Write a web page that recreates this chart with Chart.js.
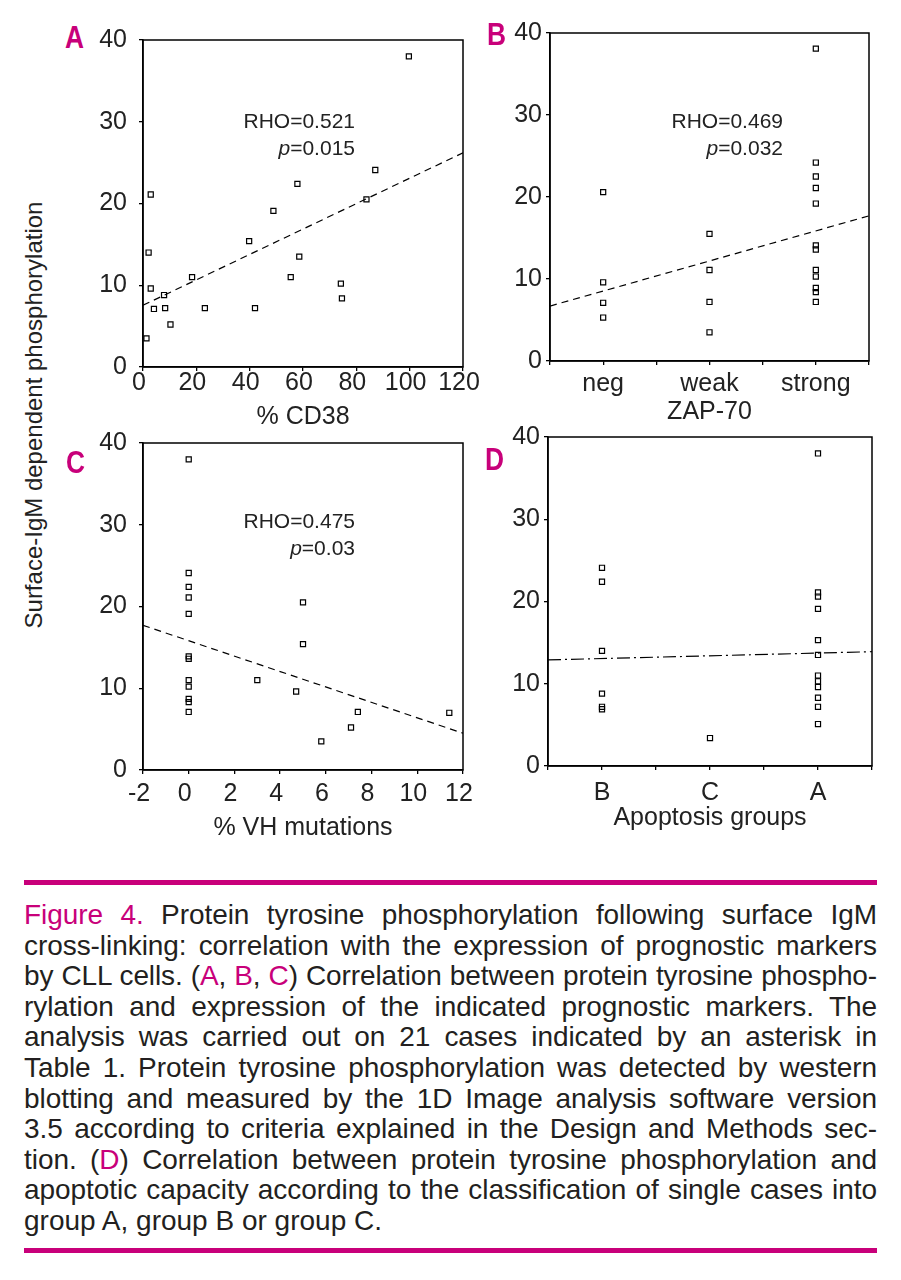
<!DOCTYPE html>
<html>
<head>
<meta charset="utf-8">
<script src="https://cdn.jsdelivr.net/npm/chart.js@4.4.1/dist/chart.umd.min.js"></script>
<style>
  body { margin: 0; background: #fff; }
  #page { position: relative; width: 901px; height: 1280px; overflow: hidden; background: #fff; }
  canvas { position: absolute; }
  .tag { position: absolute; font: bold 31px "Liberation Sans", sans-serif; line-height: 31px; color: #c8007a; transform: scaleX(0.85); transform-origin: left top; }
  .note { position: absolute; font: 21px "Liberation Sans", sans-serif; line-height: 27px; color: #222; text-align: right; white-space: nowrap; }
  .ytitle { position: absolute; left: 34px; top: 415px; transform: translate(-50%, -50%) rotate(-90deg);
            font: 24px "Liberation Sans", sans-serif; color: #222; white-space: nowrap; }
  .rule { position: absolute; left: 24px; width: 853px; height: 5px; background: #c8007a; }
  #caption { position: absolute; left: 24px; top: 900px; width: 853px; font: 28px "Liberation Sans", sans-serif;
             line-height: 30.6px; color: #231f20; }
  #caption .ln { text-align: justify; text-align-last: justify; }
  #caption .ln.last { text-align-last: left; }
  .m { color: #c8007a; }
</style>
</head>
<body>
<div id="page">
  <canvas id="chartA" width="390" height="440" style="left:90px;top:0px"></canvas>
  <canvas id="chartB" width="401" height="440" style="left:500px;top:0px"></canvas>
  <canvas id="chartC" width="390" height="425" style="left:90px;top:420px"></canvas>
  <canvas id="chartD" width="401" height="425" style="left:500px;top:420px"></canvas>

  <div class="tag" style="left:65px;top:22px">A</div>
  <div class="tag" style="left:487px;top:19px">B</div>
  <div class="tag" style="left:66px;top:447px">C</div>
  <div class="tag" style="left:485px;top:444px">D</div>

  <div class="note" style="right:546px;top:107px">RHO=0.521<br><i>p</i>=0.015</div>
  <div class="note" style="right:118px;top:107px">RHO=0.469<br><i>p</i>=0.032</div>
  <div class="note" style="right:546px;top:507px">RHO=0.475<br><i>p</i>=0.03</div>

  <div class="ytitle">Surface-IgM dependent phosphorylation</div>

  <div class="rule" style="top:880px"></div>
  <div id="caption">
    <div class="ln"><span><span class="m">Figure 4.</span> Protein tyrosine phosphorylation following surface IgM</span></div>
    <div class="ln"><span>cross-linking: correlation with the expression of prognostic markers</span></div>
    <div class="ln"><span>by CLL cells. (<span class="m">A</span>, <span class="m">B</span>, <span class="m">C</span>) Correlation between protein tyrosine phospho-</span></div>
    <div class="ln"><span>rylation and expression of the indicated prognostic markers. The</span></div>
    <div class="ln"><span>analysis was carried out on 21 cases indicated by an asterisk in</span></div>
    <div class="ln"><span>Table 1. Protein tyrosine phosphorylation was detected by western</span></div>
    <div class="ln"><span>blotting and measured by the 1D Image analysis software version</span></div>
    <div class="ln"><span>3.5 according to criteria explained in the Design and Methods sec-</span></div>
    <div class="ln"><span>tion. (<span class="m">D</span>) Correlation between protein tyrosine phosphorylation and</span></div>
    <div class="ln"><span>apoptotic capacity according to the classification of single cases into</span></div>
    <div class="ln last"><span>group A, group B or group C.</span></div>
  </div>
  <div class="rule" style="top:1248px"></div>
</div>

<script>
// Panel A: % CD38 vs phosphorylation
const cd38X = [99.7, 87.1, 83.8, 57.9, 48.9, 39.8, 58.6, 55.4, 74.2, 74.6, 42.0, 23.2, 18.4, 2.9, 2.1, 2.9, 4.1, 7.9, 8.3, 10.3, 1.3];
const cd38Y = [38.0, 24.1, 20.5, 22.4, 19.1, 15.4, 13.5, 11.0, 10.2, 8.4, 7.2, 7.2, 11.0, 21.1, 14.0, 9.6, 7.1, 8.8, 7.2, 5.2, 3.5];
const cd38FitX = [0, 120];
const cd38FitY = [7.55, 26.2];

// Panel B: ZAP-70 groups (1 = neg, 2 = weak, 3 = strong)
const zapLabels = ['neg', 'weak', 'strong'];
const zapX = [1, 1, 1, 1, 2, 2, 2, 2, 3, 3, 3, 3, 3, 3, 3, 3, 3, 3, 3, 3];
const zapY = [20.6, 9.6, 7.1, 5.3, 15.5, 11.1, 7.2, 3.5, 38.1, 24.2, 22.5, 21.1, 19.2, 14.1, 13.6, 11.1, 10.3, 8.9, 8.4, 7.2];
const zapFitX = [0.5, 3.5];
const zapFitY = [6.7, 17.7];

// Panel C: % VH mutations
const vhX = [0, 0, 0, 0, 0, 0, 0, 0, 0, 0, 0, 0, 3.0, 5.0, 5.0, 4.7, 5.8, 7.1, 7.4, 11.4];
const vhY = [38.0, 24.1, 22.4, 21.1, 19.1, 13.9, 13.6, 11.0, 10.2, 8.7, 8.3, 7.1, 11.0, 20.5, 15.4, 9.6, 3.5, 5.2, 7.1, 7.0];
const vhFitX = [-2, 12];
const vhFitY = [17.7, 4.5];

// Panel D: apoptosis groups (1 = B, 2 = C, 3 = A)
const apoLabels = ['B', 'C', 'A'];
const apoX = [1, 1, 1, 1, 1, 1, 2, 3, 3, 3, 3, 3, 3, 3, 3, 3, 3, 3, 3];
const apoY = [24.1, 22.4, 14.0, 8.8, 7.2, 6.9, 3.4, 38.0, 21.1, 20.6, 19.1, 15.3, 13.5, 11.0, 10.3, 9.6, 8.3, 7.2, 5.1];
const apoFitX = [0.5, 3.5];
const apoFitY = [12.9, 13.9];

const yTicks = { min: 0, max: 40, step: 10 };

const toPoints = (xs, ys) => xs.map((x, i) => ({ x: x, y: ys[i] }));

// full box around the plot area
const boxPlugin = {
    id: 'box',
    afterDraw(chart) {
        const a = chart.chartArea;
        const ctx = chart.ctx;
        ctx.save();
        ctx.strokeStyle = '#000';
        ctx.lineWidth = 1.5;
        ctx.strokeRect(a.left, a.top, a.right - a.left, a.bottom - a.top);
        ctx.restore();
    }
};

function makePanel(id, cfg) {
    const tickFont = { family: '"Liberation Sans", Arial, sans-serif', size: 25, lineHeight: 1 };
    const gridCfg = { drawOnChartArea: false, drawTicks: true, tickLength: 4, color: '#000', lineWidth: 1.3 };
    return new Chart(document.getElementById(id), {
        type: 'scatter',
        data: {
            datasets: [
                {
                    data: toPoints(cfg.xs, cfg.ys),
                    pointStyle: 'rect',
                    pointRadius: 3.6,
                    borderWidth: 1.2,
                    borderColor: '#000',
                    backgroundColor: 'rgba(0,0,0,0)'
                },
                {
                    data: toPoints(cfg.fitX, cfg.fitY),
                    showLine: true,
                    pointRadius: 0,
                    borderColor: '#000',
                    borderWidth: 1.2,
                    borderDash: cfg.dash
                }
            ]
        },
        options: {
            responsive: false,
            animation: false,
            layout: { autoPadding: false, padding: cfg.pad },
            plugins: { legend: { display: false }, tooltip: { enabled: false } },
            scales: {
                x: {
                    type: 'linear',
                    min: cfg.xMin, max: cfg.xMax,
                    afterFit: (s) => { s.height = cfg.xHeight; s.paddingLeft = 0; s.paddingRight = 0; },
                    grid: gridCfg,
                    border: { display: true, color: '#000', width: 1.5 },
                    ticks: {
                        stepSize: cfg.xStep,
                        autoSkip: false,
                        maxRotation: 0,
                        padding: cfg.xPad,
                        labelOffset: cfg.xLabelOffset,
                        color: '#222',
                        font: tickFont,
                        callback: cfg.xLabel
                    },
                    title: {
                        display: true,
                        text: cfg.xTitle,
                        color: '#222',
                        font: tickFont,
                        padding: { top: 0, bottom: cfg.titlePad }
                    }
                },
                y: {
                    min: yTicks.min, max: yTicks.max,
                    afterFit: (s) => { s.width = cfg.yWidth; s.paddingTop = 0; s.paddingBottom = 0; },
                    grid: gridCfg,
                    border: { display: true, color: '#000', width: 1.5 },
                    ticks: { stepSize: yTicks.step, padding: cfg.yPad, color: '#222', font: tickFont }
                }
            }
        },
        plugins: [boxPlugin]
    });
}

const groupLabel = (labels) => (v) => Number.isInteger(v) ? labels[v - 1] : '';

makePanel('chartA', {
    xs: cd38X, ys: cd38Y, fitX: cd38FitX, fitY: cd38FitY, dash: [7, 5],
    xMin: 0, xMax: 120, xStep: 20, xLabel: (v) => v, xTitle: '% CD38', xLabelOffset: -4,
    pad: { top: 40, right: 17, left: 0, bottom: 0 }, yWidth: 53, xHeight: 73,
    xPad: 0, titlePad: 10, yPad: 12
});

makePanel('chartB', {
    xs: zapX, ys: zapY, fitX: zapFitX, fitY: zapFitY, dash: [7, 5],
    xMin: 0.5, xMax: 3.5, xStep: 0.5, xLabel: groupLabel(zapLabels), xTitle: 'ZAP-70', xLabelOffset: 0,
    pad: { top: 33, right: 32, left: 0, bottom: 0 }, yWidth: 50, xHeight: 79,
    xPad: 7, titlePad: 15, yPad: 4
});

makePanel('chartC', {
    xs: vhX, ys: vhY, fitX: vhFitX, fitY: vhFitY, dash: [7, 5],
    xMin: -2, xMax: 12, xStep: 2, xLabel: (v) => v, xTitle: '% VH mutations', xLabelOffset: -4,
    pad: { top: 23, right: 17, left: 0, bottom: 0 }, yWidth: 53, xHeight: 75,
    xPad: 8, titlePad: 4, yPad: 12
});

makePanel('chartD', {
    xs: apoX, ys: apoY, fitX: apoFitX, fitY: apoFitY, dash: [13, 4, 2, 4],
    xMin: 0.5, xMax: 3.5, xStep: 0.5, xLabel: groupLabel(apoLabels), xTitle: 'Apoptosis groups', xLabelOffset: 0,
    pad: { top: 17, right: 29, left: 0, bottom: 0 }, yWidth: 48, xHeight: 79,
    xPad: 11, titlePad: 14, yPad: 4
});

// squeeze caption lines that are a bit too long for the column, like the typesetter did
const colWidth = 853;
document.querySelectorAll('#caption .ln').forEach((ln) => {
    const span = ln.firstElementChild;
    span.style.whiteSpace = 'nowrap';
    const w = span.getBoundingClientRect().width;
    if (w > colWidth - 2) {
        const n = span.textContent.length;
        ln.style.letterSpacing = ((colWidth - 4 - w) / n).toFixed(3) + 'px';
    }
    span.style.whiteSpace = '';
});
</script>
</body>
</html>
